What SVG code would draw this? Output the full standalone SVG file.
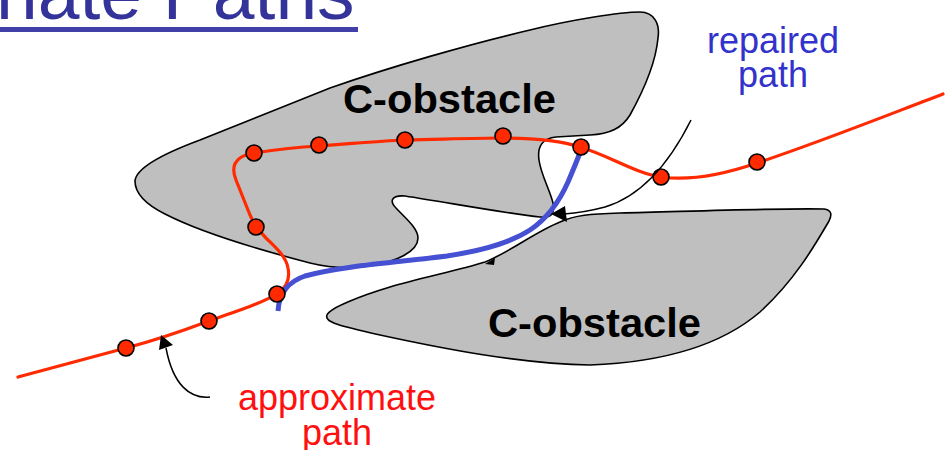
<svg xmlns="http://www.w3.org/2000/svg" width="951" height="450" viewBox="0 0 951 450">
<style>
.obst{fill:#bfbfbf;stroke:#000;stroke-width:1.6;stroke-linejoin:round}
.olabel{font-family:"Liberation Sans",Arial,sans-serif;font-weight:bold;font-size:41px;fill:#000}
.approx{fill:none;stroke:#ff2a00;stroke-width:3.2;stroke-linecap:round;stroke-linejoin:round}
.repair{fill:none;stroke:#4650d2;stroke-width:5;stroke-linecap:butt}
.dot{fill:#ff2a00;stroke:#000;stroke-width:1.6}
.thin{fill:none;stroke:#000;stroke-width:1.5}
.lbl{font-family:"Liberation Sans",Arial,sans-serif;font-size:36px;text-anchor:middle}
</style>
<rect width="951" height="450" fill="#fff"/>
<g id="title">
<text x="-4" y="19" font-family="'Liberation Sans',Arial,sans-serif" font-size="75" fill="#333399">nate Paths</text>
<rect x="0" y="27" width="358" height="5" fill="#4040a8"/>
</g>
<g id="obstacle-upper">
<path class="obst" d="M135,181 C136,168 165,153 200,140 C240,124 290,104 330,88 C390,67 470,44 530,30 C570,20 620,12 640,12 C655,12 660,25 658,38 C656,60 645,88 630,115 C622,128 610,134 590,135 L556,137 C543,138 537,146 539,160 C541,175 550,190 553,203 C555,213 552,218 540,217 C510,214 450,203 405,196 C390,195 390,202 396,208 C405,218 418,228 418,238 C418,252 395,262 370,266 C350,269 330,268 310,263 C260,250 200,232 165,214 C145,204 135,193 135,181 Z"/>
<text class="olabel" x="343" y="113" textLength="213" lengthAdjust="spacingAndGlyphs">C-obstacle</text>
</g>
<g id="obstacle-lower">
<path class="obst" d="M327,315 C330,308 360,296 390,287 C420,278 460,270 485,262 C510,252 535,232 560,222 C575,215 590,214 620,213 C700,211 780,208 824,209 C832,210 832,215 829,221 C815,245 795,280 760,312 C725,342 670,362 590,365 C520,364 440,348 380,335 C340,326 324,322 327,315 Z"/>
<polygon points="485,264 495,258 494,265" fill="#000"/>
<text class="olabel" x="488" y="337" textLength="213" lengthAdjust="spacingAndGlyphs">C-obstacle</text>
</g>
<g id="approximate-path">
<path class="approx" d="M18,377 L126,348 C160,339 185,330 209,321 C240,310 265,302 278,293 C287,287 290,278 288,268 C286,256 274,246 266,238 C258,230 254,224 250,215 C246,205 240,190 236,180 C232,170 233,163 240,158 C244,155 249,154 254,153 C280,149 300,147 319,146 C360,143 380,141 405,140 C450,139 480,138 502,138 C530,138 560,140 580,147 C610,156 635,173 661,177 C690,181 725,174 757,163 C820,142 880,118 943,94"/>
</g>
<g id="repaired-path">
<path class="repair" d="M278,311 C279,295 287,282 305,276 C340,266 400,262 447,256 C480,251 510,243 530,230 C548,218 560,200 568,182 C574,168 578,158 581,150"/>
</g>
<g id="samples">
<circle class="dot" cx="126" cy="348" r="8"/>
<circle class="dot" cx="209" cy="321" r="8"/>
<circle class="dot" cx="277" cy="294" r="8"/>
<circle class="dot" cx="256" cy="227" r="8"/>
<circle class="dot" cx="254" cy="153" r="8"/>
<circle class="dot" cx="319" cy="145" r="8"/>
<circle class="dot" cx="405" cy="140" r="8"/>
<circle class="dot" cx="503" cy="136" r="8"/>
<circle class="dot" cx="581" cy="147" r="8"/>
<circle class="dot" cx="661" cy="177" r="8"/>
<circle class="dot" cx="757" cy="162" r="8"/>
</g>
<g id="connectors">
<path class="thin" d="M691,120 C672,158 645,195 605,207 C590,211 578,213 564,214"/>
<polygon points="551,214 565,206 567,222" fill="#000"/>
<path class="thin" d="M210,397 C190,399 173,385 166,348"/>
<polygon points="161,335 159,350 173,345" fill="#000"/>
</g>
<g id="label-repaired">
<text class="lbl" x="773" y="53" fill="#3333cc">repaired</text>
<text class="lbl" x="773" y="87" fill="#3333cc">path</text>
</g>
<g id="label-approximate">
<text class="lbl" x="337" y="410" fill="#ff1010">approximate</text>
<text class="lbl" x="337" y="445" fill="#ff1010">path</text>
</g>
</svg>
